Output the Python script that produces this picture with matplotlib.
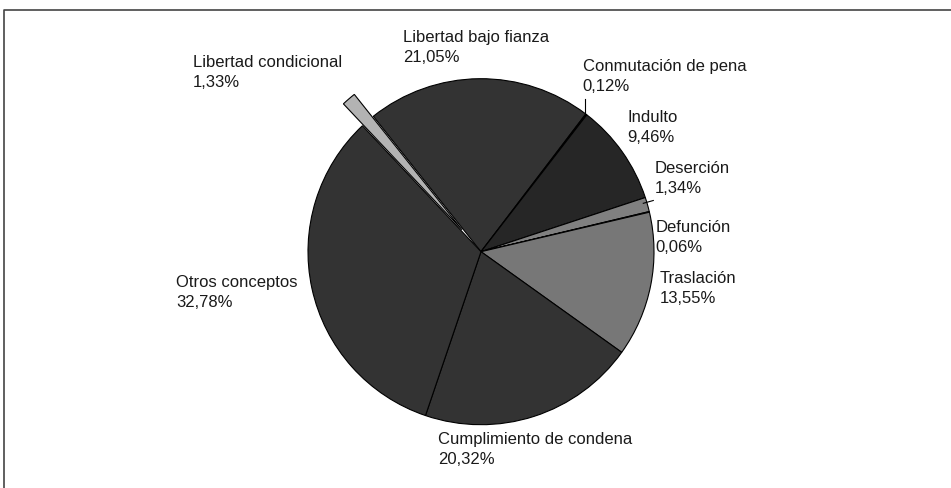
import matplotlib
matplotlib.use('Agg')
import matplotlib.pyplot as plt
from matplotlib.lines import Line2D

plt.rcParams['font.family'] = ['Liberation Sans', 'DejaVu Sans']

# slices, clockwise from "Libertad bajo fianza"
categories = ['Libertad bajo fianza', 'Conmutación de pena', 'Indulto', 'Deserción',
              'Defunción', 'Traslación', 'Cumplimiento de condena', 'Otros conceptos',
              'Libertad condicional']
percentages = [21.05, 0.12, 9.46, 1.34, 0.06, 13.55, 20.32, 32.78, 1.33]
percent_labels = ['21,05%', '0,12%', '9,46%', '1,34%', '0,06%', '13,55%', '20,32%',
                  '32,78%', '1,33%']

slice_colors = ['#333333', '#1a1a1a', '#262626', '#808080', '#6e6e6e', '#777777',
                '#333333', '#333333', '#b3b3b3']
# explode offset in pixels (data units here)
explode = [0, 0, 0, 0, 0, 0, 0, 0, 29]

# label anchor (left x, first-line baseline y) in pixels from top-left
label_pos = [(402.7, 41.7), (582.7, 71.0), (627.7, 122.3), (654.3, 173.3),
             (655.7, 231.7), (659.3, 283.3), (437.7, 444.3), (176.0, 286.7),
             (192.7, 66.7)]

W, H = 951, 488
fig = plt.figure(figsize=(W / 100, H / 100), dpi=100)
ax = fig.add_axes([0, 0, 1, 1])

wedges, _ = ax.pie(percentages, colors=slice_colors, explode=explode,
                   startangle=128.5, counterclock=False, radius=173,
                   center=(481, H - 251.7),
                   wedgeprops=dict(edgecolor='black', linewidth=0.8))
# the two same-coloured neighbours show only a faint seam
ax.set_xlim(0, W)
ax.set_ylim(0, H)
ax.set_aspect('auto')
ax.axis('off')

for (x, y), name, pct in zip(label_pos, categories, percent_labels):
    ax.text(x, H - y, name, fontsize=12, color='#1a1a1a', ha='left', va='baseline')
    ax.text(x, H - y - 20, pct, fontsize=12, color='#1a1a1a', ha='left', va='baseline')

# leader lines
ax.add_line(Line2D([584.5, 584.5], [H - 99, H - 115], color='black', linewidth=0.8))
ax.add_line(Line2D([643.3, 653.3], [H - 203.3, H - 200.5], color='black', linewidth=0.8))

# chart frame
ax.add_line(Line2D([4, 4, W], [0, H - 10, H - 10], color='#444444', linewidth=1.2))

fig.savefig('out.png', dpi=100)
